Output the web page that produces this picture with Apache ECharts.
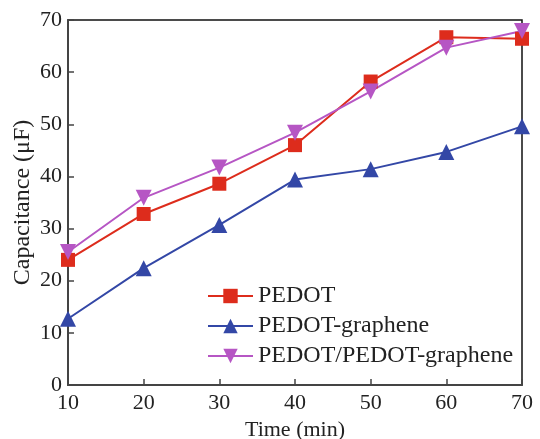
<!DOCTYPE html>
<html>
<head>
<meta charset="utf-8">
<script src="https://cdn.jsdelivr.net/npm/echarts@6/dist/echarts.min.js"></script>
<style>
  html, body { margin: 0; padding: 0; background: #fff; }
  #chart { width: 540px; height: 439px; }
</style>
</head>
<body>
<div id="chart"></div>
<script>
const times = [10, 20, 30, 40, 50, 60, 70];
const pedot = [24.0, 32.8, 38.6, 46.0, 58.2, 66.7, 66.4];
const pedotGraphene = [12.7, 22.4, 30.7, 39.4, 41.4, 44.7, 49.6];
const pedotMixed = [25.5, 35.9, 41.7, 48.4, 56.3, 64.7, 67.9];

const font = "Liberation Serif";

function pairs(vals) {
  return times.map((t, i) => [t, vals[i]]);
}

const chart = echarts.init(document.getElementById("chart"));

chart.setOption({
  animation: false,
  textStyle: { fontFamily: font },
  grid: {
    left: 68, right: 18, top: 20, bottom: 54,
    outerBoundsMode: "none",
    show: true, borderColor: "#111", borderWidth: 1.5
  },
  legend: {
    left: 202, top: 279,
    orient: "vertical",
    itemWidth: 45, itemHeight: 18, itemGap: 6,
    textStyle: { fontFamily: font, fontSize: 24, color: "#222" },
    data: ["PEDOT", "PEDOT-graphene", "PEDOT/PEDOT-graphene"]
  },
  xAxis: {
    type: "value", min: 10, max: 70, interval: 10,
    name: "Time (min)", nameLocation: "middle", nameGap: 32,
    nameTextStyle: { fontFamily: font, fontSize: 22, color: "#222" },
    axisLine: { lineStyle: { color: "#444", width: 2 } },
    axisTick: { inside: true, length: 6, lineStyle: { color: "#444", width: 1.5 } },
    axisLabel: { fontFamily: font, fontSize: 22, color: "#222", margin: 7 },
    splitLine: { show: false }
  },
  yAxis: {
    type: "value", min: 0, max: 70, interval: 10,
    name: "Capacitance (μF)", nameLocation: "middle", nameGap: 33,
    nameMoveOverlap: false,
    nameTextStyle: { fontFamily: font, fontSize: 24, color: "#222" },
    axisLine: { show: true, lineStyle: { color: "#444", width: 2 } },
    axisTick: { show: true, inside: true, length: 6, lineStyle: { color: "#444", width: 1.5 } },
    axisLabel: { fontFamily: font, fontSize: 22, color: "#222", margin: 6 },
    splitLine: { show: false }
  },
  series: [
    {
      name: "PEDOT", type: "line", data: pairs(pedot),
      symbol: "rect", symbolSize: 14,
      itemStyle: { color: "#dd2c1c" },
      lineStyle: { color: "#dd2c1c", width: 2 }
    },
    {
      name: "PEDOT-graphene", type: "line", data: pairs(pedotGraphene),
      symbol: "triangle", symbolSize: 16,
      itemStyle: { color: "#3347a6" },
      lineStyle: { color: "#3347a6", width: 2 }
    },
    {
      name: "PEDOT/PEDOT-graphene", type: "line", data: pairs(pedotMixed),
      symbol: "triangle", symbolRotate: 180, symbolSize: 16,
      itemStyle: { color: "#b656c4" },
      lineStyle: { color: "#b656c4", width: 2 }
    }
  ]
});

window.addEventListener("resize", () => chart.resize());
</script>
</body>
</html>
